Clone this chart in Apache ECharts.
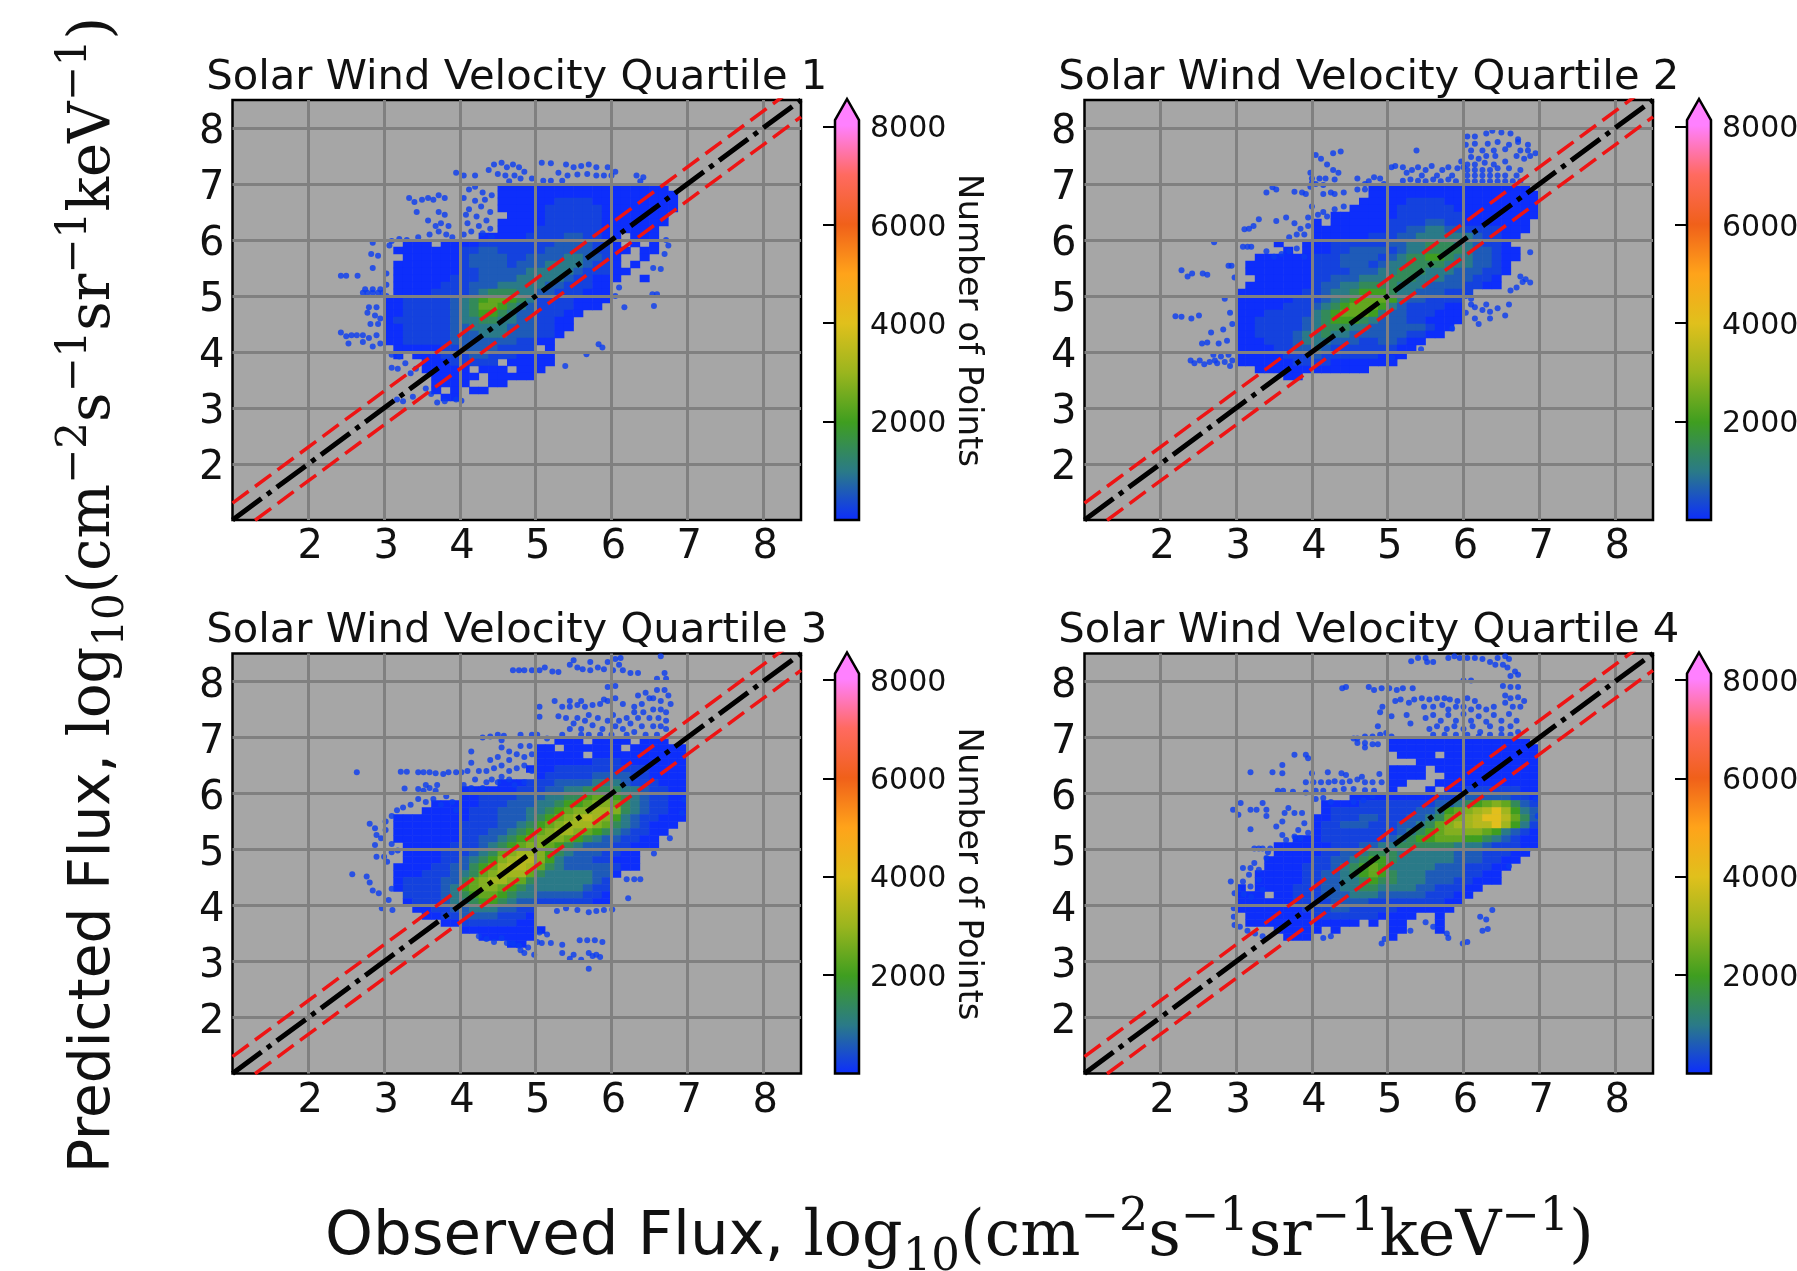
<!DOCTYPE html>
<html><head><meta charset="utf-8">
<style>html,body{margin:0;padding:0;background:#fff}#c{width:1797px;height:1271px}</style>
<script src="https://cdn.jsdelivr.net/npm/echarts@6/dist/echarts.min.js"></script>
</head><body><div id="c"></div>
<script>
const titles=['Solar Wind Velocity Quartile 1','Solar Wind Velocity Quartile 2','Solar Wind Velocity Quartile 3','Solar Wind Velocity Quartile 4'];
const cbTicks=[2000,4000,6000,8000];
const cbColors=['#0c2cff','#2a7a88','#3f9e20','#9ab51e','#e0c01c','#ffa31a','#f0601a','#ff6a60','#ff80ff'];
const oneToOneY=[1,8.5], upperY=[1.301,8.801], lowerY=[0.699,8.199], lineX=[1,8.5];
// approximate counts for each hex digit in the density rows
const levels=[30,280,600,1000,1450,2000,2400,2750,3100,3400,4050];
// density rows, top row's lower edge y=6.875, step 0.125; columns start x=2.5, step 0.125, blocks of 0.5
const heatQ1=[
".... .... .... .... 0000 0000 0000 0000 00..",
".... .... .... .... 0000 0000 0000 0000 000.",
".... .... .... .... 0000 0011 1100 0000 000.",
".... .... .... .... 0000 0111 1110 0000 000.",
".... .... .... .... .000 0111 1110 0000 00..",
".... .... .... .... 0000 0111 1110 0000 00..",
".... .... .... .... 0000 1111 1110 0000 0...",
".... .... .... ..00 0001 1112 2110 0.00 0...",
".... ..00 0.00 0011 1111 1122 2211 0.0. 0...",
".... .000 0000 1122 1111 1222 2211 00.0 0...",
".... ..00 0000 1222 2112 2223 3221 0..0 ....",
".... .000 0000 1222 2122 2333 3211 0.0. ....",
".... .000 0000 1122 2223 3333 2111 00.. ....",
".... .000 0001 1122 2233 3332 1100 0..0 ....",
".... .000 0011 1222 3333 3221 1100 .... ....",
".... .000 0111 1234 4433 2211 1000 .... ....",
".... 0011 1112 3456 6543 1111 0000 .... ....",
".... 0011 1112 3466 5432 1111 000. .... ....",
".... 0011 1112 3455 4322 1110 0... ....",
".... 0111 1112 3344 3322 1100 .... ....",
".... 0011 1112 2333 3222 1100 ....",
".... 0011 1112 2233 3222 110. ....",
".... 0011 1112 2222 2211 00..",
".... .000 0011 2222 1111 .0..",
".... .0.0 0011 1221 1100 00..",
".... .... 0001 1111 .000 00..",
".... .... 0000 0.00 0.00 0...",
".... .... .000 00.0 0000 ....",
".... .... .000 0..0 0... ....",
".... .... .0.0 .00. ....",
".... .... ..00 ...."];
const heatQ2=[
".... .... .... .... ..00 0000 0000 0000 000.",
".... .... .... .... ..00 0000 0000 0000 0000",
".... .... .... .... .000 0011 1100 0000 0000",
".... .... .... .... 0000 0111 1110 0000 0000",
".... .... .... ..00 0000 0111 1111 0000 0000",
".... .... .... 0.00 0000 1111 2211 0000 000.",
".... .... .... 0000 0000 1122 3322 1111 000.",
".... .... .... 0000 0011 1223 3333 3211 00..",
".... .... 0..0 0011 1111 2233 4443 3211 0...",
".... .... .0.0 0011 2222 1233 4444 3221 00..",
".... ..00 0000 1112 2221 2344 5543 3221 00..",
".... .000 0000 1112 2212 3344 4433 3221 0...",
".... .000 0000 1111 2223 3444 3332 2211 0...",
".... ..00 0000 1122 2333 4443 3322 2110 ....",
".... .000 0000 1223 3444 4333 2222 1100 ....",
".... 0000 0001 1233 4555 4332 2211 1... ....",
".... 0000 0011 1234 5666 5322 1111 .... ....",
".... 0000 0111 2345 6665 3211 1100 .... ....",
".... 0001 1111 3456 6653 2211 1000 .... ....",
".... 0011 1112 3455 5432 2211 0000 ....",
".... 0011 1112 3444 3322 2222 100.",
".... 0011 1123 3433 2222 2211 00..",
".... 0001 1123 3322 2112 2100",
".... 0000 1122 3211 1111 100.",
".... 0000 0111 2111 1110 00..",
".... 0000 0011 1100 0000 0...",
".... ..00 0000 0000 00..",
".... .... .00"];
const heatQ3=[
".... .... .... .... .... ..00 0.00 00.0 00..",
".... .... .... .... .... 00.0 0000 0.00 0000",
".... .... .... .... .... 0000 0.00 0000 0000",
".... .... .... .... .... 0000 0011 1000 0000",
".... .... .... .... ...0 0011 1111 1111 0000",
".... .... .... .... .... 0111 1122 2211 0000",
".... .... .... .... 0001 1122 2233 3211 1000",
".... .... .... 0000 0011 1223 3444 4332 1100",
".... .... .... 0011 1122 2334 4566 5432 1100",
".... .... .000 0011 1222 3345 5677 6432 1100",
".... .... 0000 0111 2223 3456 7788 7432 1100",
".... .000 0000 0111 2223 4567 8987 5321 1000",
".... .000 0000 1111 2234 5678 8876 4321 000.",
".... .000 0000 1112 2345 6788 7654 3211 00..",
".... .000 0000 1122 3456 7776 5432 2110 0...",
".... ..00 0001 1123 4567 7654 3222 1100 0...",
".... ..00 0011 1234 6788 7543 2221 100. ....",
".... ..00 0011 2345 7899 7532 2211 000. ....",
".... .000 0112 2456 8998 6432 2222 100.",
".... .000 1112 3467 8886 4333 3322 0...",
".... .011 1122 4678 8764 3333 3321 ....",
".... .011 1123 5677 6543 3333 3211 ....",
".... ..11 1123 4566 5433 2222 2110",
".... ..01 1123 3455 4322 1111 1100",
".... ...0 0112 2333 2211 .... ....",
".... .... 0011 2222 1110",
".... .... ..00 1111 1100",
".... .... .... 0000 0000 0...",
".... .... .... ..00 0000 ....",
".... .... .... .... .00."];
const heatQ4=[
".... .... .... .... .... 0000 0000 0000 000.",
".... .... .... .... .... 0000 0000 0000 0000",
".... .... .... .... .... .000 0.00 0000 0000",
".... .... .... .... .... ...0 0000 0000 0000",
".... .... .... .... .... 0000 .000 0000 0000",
".... .... .... .... .... 0000 ..00 0000 0000",
".... .... .... .... .... 00.. .000 0000 0000",
".... .... .... .... .... 0... 0.00 1111 1100",
".... .... .... .... 0000 0000 0111 2222 2110",
".... .... .... .000 0111 1111 1223 4567 6421",
".... .... .... .011 1111 1112 2356 789a 8532",
".... .... .... 0011 1221 1122 3467 89aa 9642",
".... .... .... 0112 2211 1223 4678 899a 8531",
".... .... .... 0111 1111 1234 5677 7765 3210",
".... .... ..00 0111 1111 2345 5666 5543 2100",
".... .... 0000 0011 1223 3444 4443 3321 1100",
".... .... 0000 0112 2344 4333 3332 2211 100.",
".... ...0 0000 1122 3455 4333 3332 2211 00..",
".... ...0 0001 1123 4565 3333 3222 1110 0...",
".... ..00 0001 1223 4565 4333 2222 1100 ....",
".... ..00 0001 1223 3454 4333 2221 1000 ....",
".... 0.00 0011 1223 3443 3332 2111 00..",
".... 000. 0011 1222 3332 2222 1110 0...",
".... 0000 0011 1122 2211 1111 1100 ....",
".... 0000 0001 1122 1111 1000 000.",
".... .000 0000 1111 1110 000. .0..",
".... .000 0000 0000 0.0. 00.. .0..",
".... .... 0000 0.0. .... 00.. .0..",
".... .... .000 .... .... 0..."];
// isolated points around the dense core
const dotsQ1=[[4.12,6.9],[4.2,6.95],[4.3,6.85],[4.05,6.75],[4.2,6.7],[4.33,6.72],[4.42,6.8],[4.12,6.55],[4.28,6.6],[4.4,6.5],[4.08,6.45],[4.22,6.42],[4.35,6.35],[4.1,6.3],[4.25,6.25],[4.4,6.2],[4.15,6.15],[4.3,6.12],[4.05,6.1],[4.42,6.05],[2.43,5.36],[2.5,5.36],[2.65,5.36],[2.72,5.06],[2.78,5.06],[2.85,5.06],[2.92,5.06],[2.98,5.06],[2.75,5.12],[2.85,5.12],[2.95,5.12],[3.03,5.2],[3.03,5.4],[3.03,5.0],[2.8,4.8],[2.9,4.8],[2.78,4.7],[2.88,4.65],[2.95,4.6],[2.82,4.5],[2.92,4.5],[2.43,4.35],[2.5,4.28],[2.57,4.3],[2.64,4.3],[2.72,4.3],[2.8,4.25],[2.9,4.3],[2.53,4.15],[2.72,4.18],[2.85,4.1],[2.95,4.15],[2.85,5.95],[2.83,5.75],[2.92,5.72],[2.85,5.5],[3.07,5.9],[3.1,5.98],[3.2,6.02],[3.3,6.0],[3.33,6.75],[3.4,6.68],[3.5,6.72],[3.58,6.75],[3.65,6.72],[3.72,6.8],[3.8,6.75],[3.43,6.5],[3.58,6.35],[3.72,6.5],[3.8,6.45],[3.68,6.25],[3.75,6.3],[3.85,6.25],[3.6,6.1],[3.72,6.15],[3.82,6.1],[3.45,6.05],[3.9,6.05],[3.95,7.2],[4.05,7.15],[4.2,7.15],[4.38,7.25],[4.45,7.35],[4.55,7.38],[4.62,7.3],[4.7,7.35],[4.78,7.3],[4.85,7.22],[4.5,7.18],[4.6,7.15],[4.72,7.15],[4.8,7.1],[4.65,7.05],[4.95,7.1],[5.08,7.38],[5.2,7.37],[5.4,7.35],[5.5,7.3],[5.6,7.32],[5.7,7.35],[5.8,7.3],[5.95,7.3],[5.3,7.2],[5.42,7.15],[5.55,7.17],[5.68,7.18],[5.8,7.15],[5.9,7.15],[6,7.15],[6.05,7.22],[6.33,7.15],[6.42,7.12],[6.38,7.05],[5.1,7.06],[5.2,7.06],[5.35,7.06],[6.72,6.0],[6.75,5.9],[6.7,5.75],[6.55,5.5],[6.65,5.48],[6.05,5],[6.17,4.8],[6.54,5.03],[6.6,5.03],[6.56,4.82],[5.83,4.14],[5.88,4.08],[5.67,3.96],[5.39,3.75],[6.1,5.15],[3.17,3.15],[3.25,3.12],[3.38,3.2],[3.95,3.15],[4.02,3.13],[3.7,3.1],[3.8,3.12],[3.1,3.95],[3.2,3.92],[3.28,3.8],[3.1,3.72],[3.18,3.7],[3.35,3.62],[3.42,3.7],[3.55,3.35],[3.62,3.25]];
const dotsQ2=[[2.28,5.46],[2.36,5.35],[2.42,5.4],[2.56,5.4],[2.62,5.38],[2.2,4.64],[2.28,4.63],[2.41,4.6],[2.51,4.65],[2.71,5.96],[2.9,5.54],[2.94,5.54],[2.98,5.33],[2.62,4.17],[2.55,4.15],[2.67,4.35],[2.83,4.4],[2.77,4.15],[2.88,4.2],[2.85,4.95],[2.92,4.7],[2.95,4.5],[2.4,3.85],[2.45,3.8],[2.52,3.85],[2.58,3.78],[2.65,3.82],[2.72,3.85],[2.75,3.8],[2.85,3.82],[2.92,3.75],[2.95,3.85],[2.8,3.92],[2.9,3.95],[2.7,3.95],[3.11,6.19],[3.17,6.2],[3.23,6.25],[3.3,6.37],[3.53,6.34],[3.66,6.4],[3.77,6.3],[3.85,6.2],[3.95,6.25],[3.9,6.1],[3.8,6.1],[3.7,6.05],[3.95,6.4],[3.09,5.88],[3.15,5.88],[3.2,5.88],[3.4,5.8],[3.5,5.7],[3.6,5.75],[3.7,5.8],[3.8,5.85],[3.9,5.7],[3.4,6.85],[3.48,6.94],[3.53,6.9],[3.77,6.86],[3.87,6.85],[3.92,6.82],[3.98,6.95],[4.05,7.0],[4.15,6.98],[4.25,6.85],[4.15,6.82],[4.3,6.82],[4.42,6.85],[4.08,6.45],[4.15,6.5],[4.2,6.42],[4.0,6.6],[4.3,6.55],[4.42,6.6],[3.98,7.2],[4.05,7.52],[4.12,7.45],[4.2,7.35],[4.28,7.25],[4.35,7.2],[4.28,7.55],[4.38,7.58],[4.3,7.08],[4.1,7.1],[4.0,7.1],[4.18,7.1],[4.0,7.02],[4.6,7.1],[4.7,7.0],[4.75,7.05],[4.82,7.12],[4.9,7.1],[4.95,7.0],[4.6,6.9],[4.7,6.9],[5.05,7.3],[5.1,7.32],[5.2,7.3],[5.25,7.2],[5.32,7.25],[5.4,7.3],[5.45,7.15],[5.5,7.25],[5.58,7.32],[5.65,7.15],[5.72,7.25],[5.8,7.3],[5.85,7.15],[5.92,7.28],[5.97,7.4],[5.5,7.05],[5.6,7.08],[5.7,7.05],[5.8,7.08],[5.9,7.05],[5.3,7.08],[5.4,7.06],[5.2,7.06],[5.38,7.6],[6.05,7.05],[6.15,7.05],[6.25,7.05],[6.35,7.05],[6.45,7.05],[6.55,7.05],[6.65,7.05],[6.75,7.05],[6.05,7.15],[6.15,7.15],[6.25,7.15],[6.35,7.15],[6.45,7.15],[6.55,7.15],[6.7,7.15],[6.05,7.25],[6.15,7.25],[6.25,7.25],[6.35,7.25],[6.45,7.28],[6.6,7.28],[6.75,7.25],[6.05,7.35],[6.15,7.35],[6.28,7.38],[6.4,7.35],[6.55,7.4],[6.1,7.48],[6.2,7.45],[6.3,7.5],[6.42,7.5],[6.7,7.5],[6.8,7.45],[6.88,7.5],[6.95,7.55],[6.85,7.6],[6.75,7.6],[6.1,7.6],[6.25,7.6],[6.4,7.6],[6.55,7.62],[6.03,7.7],[6.15,7.72],[6.32,7.72],[6.45,7.75],[6.6,7.7],[6.72,7.75],[6.85,7.7],[6.05,7.85],[6.15,7.85],[6.3,7.9],[6.38,7.95],[6.5,7.92],[6.62,7.9],[6.72,7.8],[6.0,7.3],[6.88,5.78],[6.88,5.24],[6.78,5.25],[6.82,5.3],[6.75,5.35],[6.62,5.1],[6.7,5.15],[6.15,4.8],[6.25,4.75],[6.35,4.72],[6.45,4.78],[6.6,4.85],[6.55,4.65],[6.35,4.6],[6.15,4.6],[6.2,4.5],[6.1,4.95],[6.3,4.85],[5.85,4.42],[5.44,4.05],[5.06,3.9],[6.1,4.85],[6.03,4.7],[6.03,5.0]];
const dotsQ3=[[2.64,6.38],[2.58,4.56],[2.77,4.52],[2.81,4.41],[2.85,4.27],[2.93,4.22],[2.81,5.46],[2.88,5.38],[2.9,5.26],[2.96,5.2],[2.88,5.08],[2.9,4.87],[3.0,4.87],[3.04,4.78],[3.1,4.95],[3.18,4.98],[3.1,5.1],[3.02,5.35],[3.02,5.5],[3.1,5.6],[2.97,3.95],[3.11,3.92],[3.06,4.1],[3.1,4.3],[3.22,6.39],[3.3,6.39],[3.45,6.38],[3.52,6.38],[3.6,6.38],[3.68,6.36],[3.78,6.35],[3.85,6.38],[3.95,6.38],[4.02,6.38],[3.27,6.09],[3.45,6.08],[3.52,6.05],[3.6,6.1],[3.7,6.15],[3.68,6.05],[3.55,6.15],[3.17,5.7],[3.25,5.75],[3.35,5.8],[3.45,5.9],[3.55,5.85],[3.65,5.9],[3.75,5.8],[3.82,5.95],[3.9,5.85],[3.95,5.7],[4.05,6.15],[4.15,6.1],[4.2,6.25],[4.3,6.1],[4.35,6.2],[4.42,6.25],[4.5,6.2],[4.55,6.3],[4.65,6.25],[4.72,6.15],[4.85,6.2],[4.1,6.4],[4.25,6.4],[4.35,6.4],[4.45,6.45],[4.55,6.5],[4.65,6.4],[4.75,6.45],[4.85,6.5],[4.95,6.4],[4.15,6.55],[4.4,6.6],[4.5,6.65],[4.65,6.6],[4.75,6.7],[4.85,6.65],[4.95,6.7],[4.15,6.75],[4.55,6.82],[4.55,6.95],[4.65,6.75],[4.8,6.85],[4.92,6.85],[4.3,7.0],[4.4,7.02],[4.5,7.05],[4.58,7.03],[4.8,7.05],[4.95,7.05],[5.02,7.05],[5.15,6.98],[4.7,8.2],[4.78,8.2],[4.85,8.2],[4.95,8.2],[5.05,8.2],[5.12,8.25],[5.22,8.18],[5.3,8.17],[5.45,8.3],[5.5,8.38],[5.55,8.25],[5.62,8.22],[5.72,8.35],[5.72,8.2],[5.82,8.25],[5.9,8.22],[5.95,8.35],[6.02,8.2],[6.05,8.4],[6.12,8.42],[6.1,8.3],[6.15,8.2],[6.25,8.15],[6.35,8.15],[6.65,8.45],[6.7,8.15],[6.72,8.05],[6.6,8.05],[5.95,7.9],[6.05,7.92],[6.3,7.55],[6.4,7.6],[6.5,7.7],[6.6,7.85],[6.7,7.85],[6.75,7.75],[6.35,7.75],[6.45,7.8],[6.55,7.7],[6.65,7.65],[6.78,7.6],[6.3,7.45],[6.42,7.45],[6.55,7.5],[6.65,7.5],[6.72,7.45],[6.35,7.35],[6.5,7.35],[6.62,7.35],[6.72,7.3],[6.25,7.25],[6.4,7.2],[6.55,7.2],[6.65,7.2],[6.72,7.15],[6.3,7.1],[6.45,7.05],[6.6,7.05],[5.25,7.65],[5.35,7.55],[5.45,7.55],[5.55,7.58],[5.65,7.55],[5.75,7.58],[5.85,7.6],[5.95,7.65],[6.05,7.7],[6.15,7.6],[5.05,7.55],[5.45,7.65],[5.6,7.65],[5.9,7.68],[5.05,7.37],[5.3,7.38],[5.4,7.35],[5.5,7.25],[5.55,7.35],[5.6,7.15],[5.65,7.3],[5.7,7.4],[5.75,7.22],[5.82,7.35],[5.88,7.15],[5.95,7.3],[6.02,7.4],[6.05,7.2],[6.1,7.3],[6.15,7.15],[6.2,7.35],[5.45,7.15],[5.6,7.05],[5.7,7.05],[5.85,7.05],[5.35,7.05],[6.0,7.05],[6.2,7.05],[6.96,5.89],[6.93,5.65],[6.77,5.2],[6.56,4.93],[6.3,4.47],[6.2,4.47],[6.38,4.47],[6.22,4.13],[6.01,3.93],[5.9,3.92],[5.8,3.9],[5.7,3.88],[5.55,3.92],[5.4,3.95],[5.28,3.9],[5.05,3.52],[5.15,3.48],[5.02,3.35],[5.08,3.33],[5.2,3.33],[5.35,3.3],[5.58,3.38],[5.68,3.38],[5.78,3.38],[5.88,3.35],[5.35,3.15],[5.5,3.12],[5.45,3.05],[5.6,3.03],[5.7,3.15],[5.75,3.1],[5.8,3.12],[5.85,3.08],[5.7,2.87],[4.98,3.12],[4.7,3.32],[4.8,3.2],[4.85,3.15],[4.9,3.25],[4.78,3.28],[4.25,3.45],[4.35,3.4],[4.45,3.35],[4.55,3.42],[4.62,3.33]];
const dotsQ4=[[2.96,5.71],[3.06,5.83],[3.03,5.62],[3.19,5.71],[3.27,5.71],[3.35,5.83],[3.4,5.71],[3.4,5.6],[3.19,5.36],[3.53,5.41],[3.61,5.5],[3.64,5.65],[3.69,5.74],[3.77,5.65],[3.87,5.65],[3.9,5.47],[3.82,5.35],[3.66,5.17],[3.77,5.23],[3.61,5.26],[3.85,5.2],[3.95,5.3],[3.45,5.02],[3.24,5.02],[3.3,5.02],[3.35,5.02],[3.09,4.67],[3.19,4.67],[3.24,4.76],[3.3,4.64],[3.17,4.55],[3.4,4.85],[3.42,4.95],[2.93,4.43],[3.09,4.43],[2.98,4.22],[3.19,4.34],[3.3,4.46],[3.35,4.28],[3.03,4.3],[3.1,4.2],[3.2,4.15],[2.97,3.95],[2.97,3.8],[2.98,3.65],[3.05,3.62],[3.15,3.55],[3.25,3.5],[3.35,3.45],[3.19,6.38],[3.48,6.38],[3.61,6.51],[3.61,6.36],[3.77,6.69],[3.92,6.69],[3.95,6.63],[4.0,6.36],[4.21,6.38],[4.39,6.36],[4.45,6.33],[4.66,6.3],[4.89,6.35],[3.92,6.2],[4.02,6.2],[4.12,6.2],[4.22,6.2],[4.3,6.22],[4.4,6.2],[4.5,6.22],[4.6,6.25],[4.7,6.2],[4.8,6.2],[4.92,6.2],[3.55,6.05],[3.62,6.05],[3.75,6.03],[3.92,6.02],[4.05,6.05],[4.15,6.05],[4.3,6.05],[4.42,6.08],[4.55,6.08],[4.7,6.06],[4.82,6.05],[4.05,5.9],[4.15,5.92],[4.25,5.85],[4.55,5.85],[4.68,5.88],[4.8,5.95],[4.55,6.98],[4.6,6.9],[4.7,6.9],[4.8,6.88],[4.87,6.88],[4.6,6.98],[4.7,7.02],[4.8,7.02],[4.9,7.05],[4.98,7.08],[5.05,7.02],[4.87,7.2],[4.9,7.45],[4.93,7.55],[4.7,6.82],[4.4,7.88],[4.45,7.9],[4.75,7.9],[4.82,7.85],[4.92,7.88],[5.02,7.88],[5.12,7.85],[5.2,7.88],[5.33,7.88],[5.1,7.65],[5.17,7.68],[5.28,7.62],[5.35,7.68],[5.45,7.7],[5.55,7.68],[5.65,7.7],[5.75,7.7],[5.82,7.68],[5.92,7.65],[6.05,7.7],[6.15,7.65],[5.48,7.55],[5.6,7.55],[5.72,7.58],[5.8,7.5],[5.9,7.55],[6.0,7.55],[6.1,7.5],[6.2,7.55],[6.3,7.5],[6.4,7.55],[5.05,7.38],[5.25,7.4],[5.3,7.25],[5.5,7.35],[5.6,7.4],[5.7,7.3],[5.8,7.4],[5.9,7.3],[6.0,7.42],[6.1,7.3],[6.2,7.38],[6.3,7.28],[6.4,7.4],[6.5,7.3],[6.6,7.42],[6.7,7.3],[6.75,7.55],[5.55,7.15],[5.65,7.2],[5.78,7.15],[5.88,7.2],[6.0,7.15],[6.12,7.2],[6.22,7.1],[6.35,7.2],[6.5,7.15],[6.62,7.2],[6.72,7.1],[5.6,7.05],[5.75,7.05],[5.9,7.05],[6.05,7.05],[6.2,7.02],[6.35,7.05],[6.5,7.05],[6.62,7.05],[5.31,8.36],[5.4,8.42],[5.5,8.42],[5.52,8.35],[5.6,8.35],[5.8,8.42],[5.88,8.45],[5.95,8.42],[6.05,8.42],[6.15,8.42],[6.25,8.4],[6.35,8.35],[6.45,8.42],[6.55,8.45],[6.6,8.4],[6.42,8.3],[6.52,8.3],[6.58,8.25],[6.68,8.18],[6.62,8.1],[6.72,8.12],[6.0,8.02],[6.1,8.02],[6.52,7.92],[6.62,7.9],[6.72,7.9],[6.55,7.75],[6.62,7.7],[6.72,7.72],[6.8,7.65],[6.55,7.62],[6.65,7.55],[6.95,5.9],[6.98,5.6],[6.85,5.0],[6.6,4.7],[6.38,3.92],[6.22,3.8],[6.3,3.75],[6.25,3.55],[6.32,3.58],[5.99,3.32],[6.05,3.35],[5.78,3.5],[5.8,3.42],[5.5,3.7],[5.6,3.62],[4.92,3.32],[4.96,3.4],[4.15,3.42],[4.25,3.45],[5.3,3.55]];

const heats=[heatQ1,heatQ2,heatQ3,heatQ4], dots=[dotsQ1,dotsQ2,dotsQ3,dotsQ4];
const cats=[]; for(let i=0;i<60;i++) cats.push(String(1+i*0.125));
function cells(rows){const out=[];rows.forEach((r,ri)=>{const s=r.replace(/ /g,'');for(let i=0;i<s.length;i++){if(s[i]!=='.'){out.push([12+i,47-ri,levels[parseInt(s[i],16)]]);}}});return out;}

const PX=[232.5,1084.5,232.5,1084.5],PY=[100,100,653.5,653.5],PW=568.5,PH=420;
const grids=[],xAxes=[],yAxes=[],series=[],titleOpts=[],heatIdx=[];
const cbMax=8557,cbRect=8130;
const stops=cbColors.map((c,i)=>({offset:i*1000/cbMax,color:c}));stops.push({offset:1,color:'#ff80ff'});
for(let p=0;p<4;p++){
  const g0=grids.length;
  grids.push({left:PX[p],top:PY[p],width:PW,height:PH,show:true,backgroundColor:'#a6a6a6',borderWidth:0,outerBoundsMode:'none'});
  grids.push({left:PX[p],top:PY[p],width:PW,height:PH,show:true,backgroundColor:'transparent',borderColor:'#000',borderWidth:2.5,outerBoundsMode:'none'});
  grids.push({left:PX[p]+602.5,top:PY[p]-1,width:24,height:PH+1,outerBoundsMode:'none'});
  xAxes.push({gridIndex:g0,type:'category',data:cats,show:false});
  yAxes.push({gridIndex:g0,type:'category',data:cats,show:false});
  const lab={fontFamily:'DejaVu Sans',fontSize:40,color:'#111'};
  const sl={show:true,lineStyle:{color:'#808080',width:3},showMinLine:false,showMaxLine:false};
  xAxes.push({gridIndex:g0+1,type:'value',min:1,max:8.5,interval:1,z:3,axisLine:{show:false},axisTick:{show:false},splitLine:sl,
    axisLabel:{...lab,margin:8,padding:[0,0,0,4],showMinLabel:false,showMaxLabel:false,hideOverlap:false}});
  yAxes.push({gridIndex:g0+1,type:'value',min:1,max:8.5,interval:1,z:3,axisLine:{show:false},axisTick:{show:false},splitLine:sl,
    axisLabel:{...lab,margin:8,verticalAlign:'top',lineHeight:10,showMinLabel:false,showMaxLabel:false,hideOverlap:false}});
  xAxes.push({gridIndex:g0+2,type:'value',min:0,max:1,show:false});
  yAxes.push({gridIndex:g0+2,type:'value',position:'right',min:0,max:cbMax,interval:2000,z:6,
    axisLine:{show:false},splitLine:{show:false},
    axisTick:{show:true,inside:true,length:12,lineStyle:{color:'#000',width:2},customValues:cbTicks},
    axisLabel:{show:true,inside:false,margin:11,verticalAlign:'top',lineHeight:6,formatter:v=>String(v),fontFamily:'DejaVu Sans',fontSize:30,color:'#111',customValues:cbTicks},
    name:(p%2===0)?'Number of Points':'',nameLocation:'middle',nameRotate:-90,nameGap:92,
    nameTextStyle:{fontFamily:'DejaVu Sans',fontSize:34,color:'#111',padding:[0,0,0,22]}});
  heatIdx.push(series.length);
  series.push({type:'heatmap',xAxisIndex:g0,yAxisIndex:g0,data:cells(heats[p]),z:1,progressive:0,silent:true,emphasis:{disabled:true}});
  series.push({type:'scatter',xAxisIndex:g0+1,yAxisIndex:g0+1,data:dots[p],symbol:'circle',symbolSize:6,z:2,silent:true,itemStyle:{color:'#0a3cf2'},large:false});
  const lineData=(ys)=>lineX.map((x,i)=>[x,ys[i]]);
  [[upperY,'#ee1414',3.5,[20,8]],[lowerY,'#ee1414',3.5,[20,8]]].forEach(([ys,c,w,d])=>{
    series.push({type:'line',xAxisIndex:g0+1,yAxisIndex:g0+1,data:lineData(ys),symbol:'none',z:4,silent:true,lineStyle:{color:c,width:w,type:d}});
  });
  series.push({type:'line',xAxisIndex:g0+1,yAxisIndex:g0+1,data:lineData(oneToOneY),symbol:'none',z:5,silent:true,lineStyle:{color:'#000',width:5,type:[36,7,5,7]}});
  series.push({type:'custom',xAxisIndex:g0+2,yAxisIndex:g0+2,z:6,silent:true,data:[[0,cbRect,cbMax]],clip:false,
    renderItem:(params,api)=>{
      const pts=[[0,0],[1,0],[1,cbRect],[0.5,cbMax],[0,cbRect]].map(q=>api.coord(q));
      return {type:'polygon',shape:{points:pts},style:{fill:new echarts.graphic.LinearGradient(0,1,0,0,stops),stroke:'#000',lineWidth:2.5,lineJoin:'miter'},z2:-1};
    }});
  titleOpts.push({text:titles[p],left:PX[p]+PW/2-5,top:PY[p]-48,textAlign:'center',textStyle:{fontFamily:'DejaVu Sans',fontSize:41.7,fontWeight:'normal',color:'#111'}});
}
function mathStyles(base,serif,sup,sub){return {
  a:{fontFamily:'DejaVu Sans',fontSize:base,fill:'#111',lineHeight:base*1.4},
  b:{fontFamily:'DejaVu Serif',fontSize:serif,fill:'#111',lineHeight:base*1.4},
  u:{fontFamily:'DejaVu Serif',fontSize:sup,fill:'#111',verticalAlign:'top',lineHeight:sup*1.1},
  s:{fontFamily:'DejaVu Serif',fontSize:sub,fill:'#111',verticalAlign:'bottom',lineHeight:sub*1.1}};}
const math='log}{s|10}{b|(cm}{u|−2}{b|s}{u|−1}{b|sr}{u|−1}{b|keV}{u|−1}{b|)}';
const chart=echarts.init(document.getElementById('c'),null,{renderer:'canvas'});
chart.setOption({animation:false,backgroundColor:'#fff',title:titleOpts,grid:grids,xAxis:xAxes,yAxis:yAxes,series,
  visualMap:{show:false,type:'continuous',min:0,max:8000,dimension:2,seriesIndex:heatIdx,inRange:{color:cbColors}},
  graphic:[
   {type:'text',silent:true,x:325,y:1238,style:{text:'{a|Observed Flux, }{b|'+math,rich:mathStyles(61,63.5,46,45),align:'left',verticalAlign:'middle'}},
   {type:'text',silent:true,x:94,y:595,rotation:Math.PI/2,style:{text:'{a|Predicted Flux, }{b|'+math,rich:mathStyles(56.5,57.5,42,42),align:'center',verticalAlign:'middle'}}
  ]});
</script></body></html>
